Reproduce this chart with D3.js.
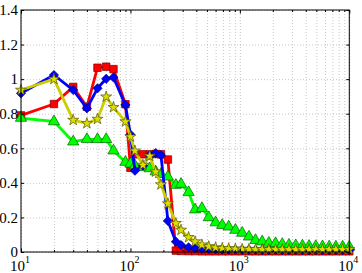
<!DOCTYPE html>
<html>
<head>
<meta charset="utf-8">
<script src="https://cdn.jsdelivr.net/npm/d3@7"></script>
<style>
body { margin: 0; background: #fff; }
svg { display: block; }
</style>
</head>
<body>
<div id="chart"></div>
<script>
var xVals = [10, 20, 30, 40, 50, 60, 70, 90, 100, 110, 130, 150, 170, 190, 220, 260, 290, 340, 390, 450, 520,
    600, 690, 790, 910, 1050, 1210, 1390, 1600, 1840, 2120, 2440, 2810, 3240, 3730, 4290, 4940, 5690, 6550, 7540, 8690, 10000]

var redVals = [0.79, 0.856, 0.955, 0.84, 1.066, 1.072, 1.058, 0.855, 0.487, 0.565, 0.565, 0.565, 0.567, 0.565, 0.535,
    0.008, 0.006, 0.005, 0.005, 0.004, 0.004, 0.004, 0.004, 0.004, 0.004, 0.004, 0.004, 0.004, 0.004, 0.004, 0.004,
    0.004, 0.004, 0.004, 0.004, 0.004, 0.004, 0.004, 0.004, 0.004, 0.004, 0.004]

var greenVals = [0.775, 0.755, 0.638, 0.652, 0.652, 0.652, 0.586, 0.52, 0.51, 0.5, 0.49, 0.483, 0.465, 0.45, 0.435,
    0.387, 0.393, 0.345, 0.245, 0.253, 0.2, 0.17, 0.155, 0.146, 0.127, 0.11, 0.088, 0.068, 0.06, 0.052, 0.05,
    0.045, 0.041, 0.038, 0.036, 0.034, 0.033, 0.032, 0.031, 0.03, 0.03, 0.03]

var blueVals = [0.918, 1.024, 0.937, 0.831, 0.947, 1.002, 1.01, 0.85, 0.68, 0.47, 0.5, 0.56, 0.572, 0.56, 0.18,
    0.06, 0.04, 0.027, 0.021, 0.018, 0.016, 0.015, 0.014, 0.013, 0.013, 0.012, 0.012, 0.012, 0.011, 0.011, 0.011,
    0.011, 0.01, 0.01, 0.01, 0.01, 0.01, 0.01, 0.01, 0.01, 0.01, 0.01]

var yellowVals = [0.937, 1.0, 0.763, 0.744, 0.769, 0.898, 0.837, 0.754, 0.667, 0.585, 0.503, 0.555, 0.464, 0.39, 0.28,
    0.166, 0.127, 0.085, 0.06, 0.042, 0.032, 0.026, 0.022, 0.02, 0.018, 0.017, 0.016, 0.016, 0.015, 0.015, 0.015,
    0.015, 0.015, 0.015, 0.015, 0.015, 0.015, 0.015, 0.015, 0.015, 0.015, 0.015]

var yTicks = [0, 0.2, 0.4, 0.6, 0.8, 1, 1.2, 1.4]
var xMajor = [10, 100, 1000, 10000]
var xExp = ["1", "2", "3", "4"]

var series = [
    { vals: redVals, line: "#ff0000", fill: "#ff0000", edge: "#7a0000", sym: d3.symbolSquare, size: 56, rot: 0 },
    { vals: greenVals, line: "#00ff00", fill: "#00ff00", edge: "#006600", sym: d3.symbolTriangle, size: 55, rot: 0 },
    { vals: blueVals, line: "#0000ff", fill: "#0000ff", edge: "#000060", sym: d3.symbolSquare, size: 42, rot: 45 },
    { vals: yellowVals, line: "#cccc00", fill: "#dddd00", edge: "#555500", sym: d3.symbolStar, size: 38, rot: 0 }
]

var W = 362, H = 273
var pLeft = 21, pRight = 349.3, pTop = 10, pBottom = 252

var svg = d3.select("#chart").append("svg")
    .attr("width", W)
    .attr("height", H)

var x = d3.scaleLog().domain([10, 10000]).range([pLeft, pRight])
var y = d3.scaleLinear().domain([0, 1.4]).range([pBottom, pTop])

// grid
var minor = x.ticks()
svg.append("g")
    .attr("transform", "translate(0," + pBottom + ")")
    .call(d3.axisBottom(x).tickValues(minor).tickSize(-(pBottom - pTop)).tickFormat(""))
    .call(g => {
        g.select(".domain").remove()
        g.selectAll("line").attr("stroke", "#c8c8c8").attr("stroke-dasharray", "1,2")
    })
svg.append("g")
    .attr("transform", "translate(" + pLeft + ",0)")
    .call(d3.axisLeft(y).tickValues(yTicks).tickSize(-(pRight - pLeft)).tickFormat(""))
    .call(g => {
        g.select(".domain").remove()
        g.selectAll("line").attr("stroke", "#c8c8c8").attr("stroke-dasharray", "1,2")
    })

// series
var line = d3.line()
    .x((d, i) => x(xVals[i]))
    .y(d => y(d))

series.forEach(s => {
    svg.append("path")
        .datum(s.vals)
        .attr("d", line)
        .attr("fill", "none")
        .attr("stroke", s.line)
        .attr("stroke-width", 2.8)
        .attr("stroke-linejoin", "round")

    svg.append("g").selectAll("path")
        .data(s.vals)
        .enter().append("path")
        .attr("d", d3.symbol().type(s.sym).size(s.size))
        .attr("transform", (d, i) => "translate(" + x(xVals[i]) + "," + y(d) + ") rotate(" + s.rot + ")")
        .attr("fill", s.fill)
        .attr("stroke", s.edge)
        .attr("stroke-width", 0.7)
})

// axes
svg.append("rect")
    .attr("x", pLeft).attr("y", pTop)
    .attr("width", pRight - pLeft).attr("height", pBottom - pTop)
    .attr("fill", "none")
    .attr("stroke", "#000")
    .attr("stroke-width", 1)

svg.append("g")
    .attr("transform", "translate(" + pLeft + ",0)")
    .call(d3.axisLeft(y).tickValues(yTicks).tickSizeInner(-3).tickSizeOuter(0).tickPadding(3).tickFormat(d3.format("~g")))
    .call(g => {
        g.select(".domain").remove()
        g.selectAll("line").attr("stroke", "#000")
        g.selectAll("text")
            .attr("font-family", "'Liberation Serif', 'DejaVu Serif', serif")
            .attr("font-size", 15)
            .attr("fill", "#000")
    })

svg.append("g")
    .attr("transform", "translate(" + pRight + ",0)")
    .call(d3.axisRight(y).tickValues(yTicks).tickSizeInner(-3).tickSizeOuter(0).tickFormat(""))
    .call(g => {
        g.select(".domain").remove()
        g.selectAll("line").attr("stroke", "#000")
    })

svg.append("g")
    .attr("transform", "translate(0," + pBottom + ")")
    .call(d3.axisBottom(x).tickValues(minor).tickSizeInner(-2).tickSizeOuter(0).tickFormat(""))
    .call(g => {
        g.select(".domain").remove()
        g.selectAll("line").attr("stroke", "#000").attr("y2", d => xMajor.indexOf(d) >= 0 ? -3.5 : -2)
    })

svg.append("g")
    .attr("transform", "translate(0," + pTop + ")")
    .call(d3.axisTop(x).tickValues(minor).tickSizeInner(-2).tickSizeOuter(0).tickFormat(""))
    .call(g => {
        g.select(".domain").remove()
        g.selectAll("line").attr("stroke", "#000").attr("y2", d => xMajor.indexOf(d) >= 0 ? 3.5 : 2)
    })

var xl = svg.append("g").selectAll("text")
    .data(xMajor)
    .enter().append("text")
    .attr("x", d => x(d) - 1)
    .attr("y", 271)
    .attr("text-anchor", "middle")
    .attr("font-family", "'Liberation Serif', 'DejaVu Serif', serif")
    .attr("font-size", 15)
    .attr("fill", "#000")
xl.append("tspan").text("10")
xl.append("tspan")
    .attr("dy", -8)
    .attr("font-size", 10)
    .text((d, i) => xExp[i])
</script>
</body>
</html>
